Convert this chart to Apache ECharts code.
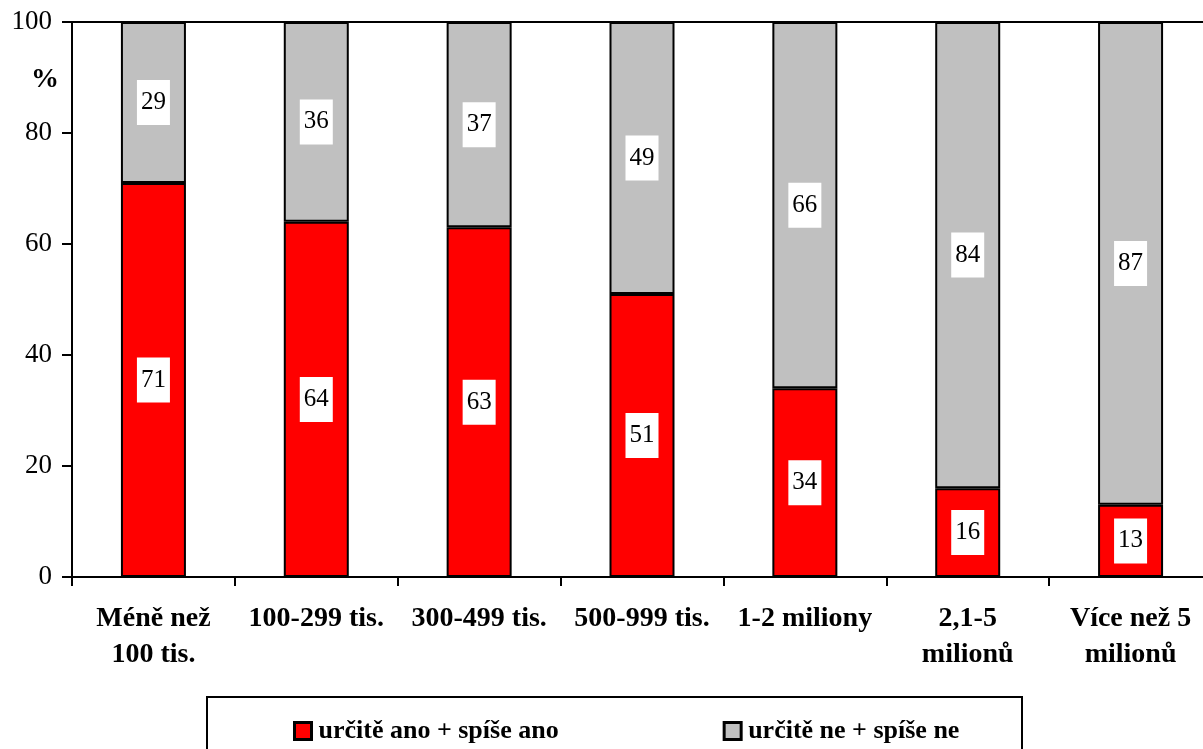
<!DOCTYPE html>
<html>
<head>
<meta charset="utf-8">
<script src="https://cdn.jsdelivr.net/npm/echarts@6/dist/echarts.min.js"></script>
<style>
  html, body { margin: 0; padding: 0; background: #fff; }
  #main { width: 1203px; height: 749px; }
</style>
</head>
<body>
<div id="main"></div>
<script>
// data
const categories = ['Méně než\n100 tis.', '100-299 tis.', '300-499 tis.', '500-999 tis.', '1-2 miliony', '2,1-5\nmilionů', 'Více než 5\nmilionů'];
const anoValues = [71, 64, 63, 51, 34, 16, 13];
const neValues = [29, 36, 37, 49, 66, 84, 87];
const seriesNames = ['určitě ano + spíše ano', 'určitě ne + spíše ne'];

const FONT = '"Liberation Serif", "Times New Roman", serif';

const chart = echarts.init(document.getElementById('main'));

// popisky uvnitr sloupcu
const segLabel = {
  show: true,
  position: 'inside',
  color: '#000',
  fontFamily: FONT,
  fontSize: 25,
  lineHeight: 25,
  backgroundColor: '#fff',
  padding: [10, 4]
};

let option = {
  animation: false,
  backgroundColor: '#fff',
  grid: { left: 72, top: 22, width: 1140, height: 555, outerBoundsMode: 'none', containLabel: false },
  xAxis: [{
    type: 'category',
    data: categories,
    axisLine: { lineStyle: { color: '#000', width: 2 } },
    axisTick: { show: true, length: 9, lineStyle: { color: '#000', width: 2 } },
    axisLabel: {
      color: '#000', fontFamily: FONT, fontSize: 28, fontWeight: 'bold',
      lineHeight: 36, margin: 24, interval: 0
    }
  }, {
    type: 'category',
    position: 'top',
    data: categories,
    axisLine: { lineStyle: { color: '#000', width: 2 } },
    axisTick: { show: false },
    axisLabel: { show: false }
  }],
  yAxis: {
    type: 'value',
    min: 0, max: 100, interval: 20,
    axisLine: { show: true, lineStyle: { color: '#000', width: 2 } },
    axisTick: { show: true, length: 10, lineStyle: { color: '#000', width: 2 } },
    splitLine: { show: false },
    axisLabel: { color: '#000', fontFamily: FONT, fontSize: 27, margin: 20 }
  },
  legend: {
    left: 288, top: 713,
    itemWidth: 17, itemHeight: 17,
    itemGap: 164,
    icon: 'rect',
    itemStyle: { borderColor: '#000', borderWidth: 3 },
    textStyle: { color: '#000', fontFamily: FONT, fontSize: 26, fontWeight: 'bold', padding: [0, 0, 0, 2] },
    data: seriesNames
  },
  graphic: [{
    type: 'rect',
    shape: { x: 207, y: 697, width: 815, height: 80 },
    style: { fill: 'none', stroke: '#000', lineWidth: 2 },
    silent: true
  }, {
    type: 'text',
    left: 31, top: 66,
    style: { text: '%', fill: '#000', font: 'bold 28px ' + FONT }
  }],
  series: [{
    name: seriesNames[0],
    type: 'bar',
    stack: 'all',
    barWidth: 65,
    data: anoValues,
    itemStyle: { color: '#ff0000', borderColor: '#000', borderWidth: 2 },
    label: segLabel
  }, {
    name: seriesNames[1],
    type: 'bar',
    stack: 'all',
    barWidth: 65,
    data: neValues,
    itemStyle: { color: '#c0c0c0', borderColor: '#000', borderWidth: 2 },
    label: segLabel
  }]
};

chart.setOption(option);
</script>
</body>
</html>
